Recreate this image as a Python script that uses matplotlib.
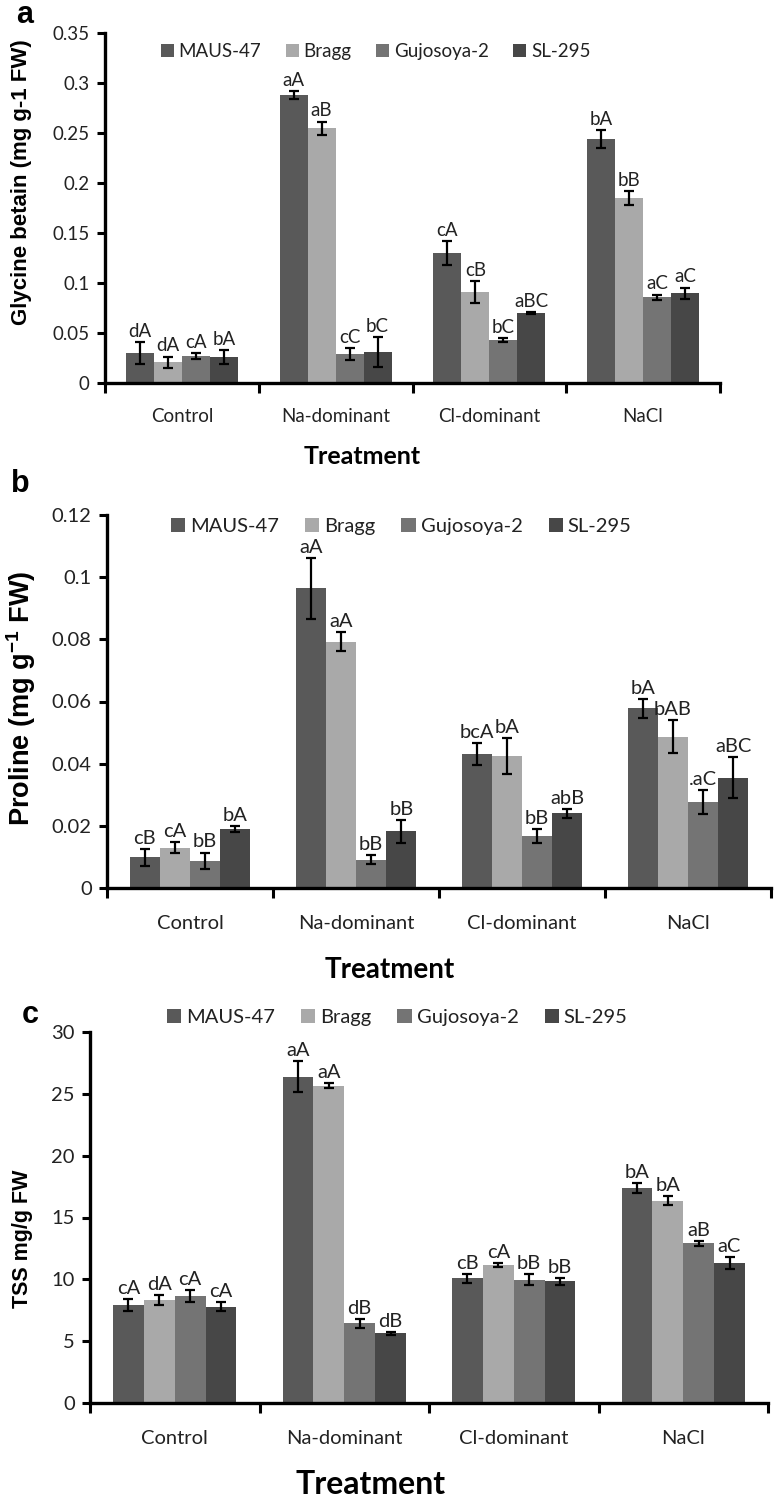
import numpy as np
import matplotlib.pyplot as plt
from matplotlib.patches import Patch
from matplotlib.ticker import FuncFormatter

plt.rcParams['font.family'] = ['Lato', 'DejaVu Sans']
plt.rcParams['mathtext.default'] = 'regular'

TREATMENTS = ["Control", "Na-dominant", "Cl-dominant", "NaCl"]
CULTIVARS = ["MAUS-47", "Bragg", "Gujosoya-2", "SL-295"]
COLORS = ["#595959", "#a9a9a9", "#747474", "#474747"]

# rows = cultivar, columns = treatment
gb_mean = [[0.030, 0.288, 0.130, 0.244],
           [0.021, 0.255, 0.091, 0.185],
           [0.027, 0.029, 0.043, 0.086],
           [0.026, 0.031, 0.070, 0.090]]
gb_err = [[0.011, 0.004, 0.012, 0.009],
          [0.0055, 0.0065, 0.011, 0.007],
          [0.003, 0.006, 0.002, 0.0025],
          [0.007, 0.015, 0.001, 0.0055]]
gb_letters = [["dA", "aA", "cA", "bA"],
              ["dA", "aB", "cB", "bB"],
              ["cA", "cC", "bC", "aC"],
              ["bA", "bC", "aBC", "aC"]]

pro_mean = [[0.0099, 0.0964, 0.0430, 0.0578],
            [0.0130, 0.0792, 0.0424, 0.0487],
            [0.0088, 0.0091, 0.0168, 0.0277],
            [0.0189, 0.0183, 0.0240, 0.0354]]
pro_err = [[0.0027, 0.0098, 0.0035, 0.0030],
           [0.0017, 0.0030, 0.0058, 0.0053],
           [0.0026, 0.0015, 0.0022, 0.0038],
           [0.0010, 0.0037, 0.0014, 0.0066]]
pro_letters = [["cB", "aA", "bcA", "bA"],
               ["cA", "aA", "bA", "bAB"],
               ["bB", "bB", "bB", ".aC"],
               ["bA", "bB", "abB", "aBC"]]

tss_mean = [[7.95, 26.4, 10.08, 17.4],
            [8.32, 25.65, 11.14, 16.35],
            [8.65, 6.43, 9.97, 12.9],
            [7.78, 5.62, 9.84, 11.32]]
tss_err = [[0.49, 1.26, 0.38, 0.40],
           [0.40, 0.20, 0.18, 0.35],
           [0.50, 0.38, 0.43, 0.23],
           [0.35, 0.10, 0.30, 0.46]]
tss_letters = [["cA", "aA", "cB", "bA"],
               ["dA", "aA", "cA", "bA"],
               ["cA", "dB", "bB", "aB"],
               ["cA", "dB", "bB", "aC"]]

W, H = 774, 1498


def px_rect(left, right, top, bottom):
    return [left / W, 1 - bottom / H, (right - left) / W, (bottom - top) / H]


def draw_panel(ax, means, errs, letters, ymax, ystep, ylabel, fs,
               ylab_kw, legend_xy, xlab_x, xlab_fs, xlab_off, cat_pad):
    x = np.arange(len(TREATMENTS))
    bw = 0.182
    for i, name in enumerate(CULTIVARS):
        pos = x + (i - 1.5) * bw
        ax.bar(pos, means[i], bw, color=COLORS[i], zorder=2)
        ax.errorbar(pos, means[i], yerr=errs[i], fmt='none', ecolor='black',
                    elinewidth=1.6, capsize=3.5, capthick=1.6, zorder=3)
        for j in range(len(TREATMENTS)):
            ax.annotate(letters[i][j], (pos[j], means[i][j] + errs[i][j]),
                        xytext=(0, 1.5), textcoords='offset points',
                        ha='center', va='bottom', fontsize=fs, color='#222222')

    ax.set_xlim(-0.5, len(TREATMENTS) - 0.5)
    ax.set_ylim(0, ymax)
    ax.set_yticks(np.arange(0, ymax + ystep / 2, ystep))
    ax.yaxis.set_major_formatter(FuncFormatter(lambda v, p: f"{v:g}"))
    ax.set_xticks(np.arange(-0.5, len(TREATMENTS)))
    ax.set_xticklabels([])
    ax.set_xticks(x, minor=True)
    ax.set_xticklabels(TREATMENTS, minor=True, fontsize=fs, color='#222222')
    ax.tick_params(axis='x', which='minor', length=0, pad=cat_pad)
    ax.tick_params(axis='x', which='major', length=7, width=2.2, direction='out')
    ax.tick_params(axis='y', length=6, width=2.2, direction='out',
                   labelsize=fs, labelcolor='#222222', pad=5)
    for s in ['top', 'right']:
        ax.spines[s].set_visible(False)
    for s in ['left', 'bottom']:
        ax.spines[s].set_linewidth(2.4)

    ax.text(ylab_kw['x'], ylab_kw['y'], ylabel, rotation=90, ha='center',
            va='center', transform=ax.transAxes, fontsize=ylab_kw['fs'],
            fontweight=ylab_kw['weight'], family=['Liberation Sans', 'DejaVu Sans'])

    handles = [Patch(facecolor=c, label=n) for c, n in zip(COLORS, CULTIVARS)]
    ax.legend(handles=handles, ncol=4, loc='center', bbox_to_anchor=legend_xy,
              frameon=False, fontsize=fs, handlelength=0.7, handleheight=0.7,
              handletextpad=0.25, columnspacing=1.3, labelcolor='#222222')

    ax.annotate("Treatment", (xlab_x, 0), xycoords='axes fraction',
                xytext=(0, xlab_off), textcoords='offset points',
                ha='center', va='center', fontsize=xlab_fs, fontweight='bold')


fig = plt.figure(figsize=(W / 100, H / 100), dpi=100)

ax_a = fig.add_axes(px_rect(105, 720, 33, 383))
draw_panel(ax_a, gb_mean, gb_err, gb_letters, 0.35, 0.05,
           "Glycine betain (mg g-1 FW)", 13.5,
           dict(x=-0.135, y=0.575, fs=16, weight='bold'),
           (0.44, 0.946), 0.418, 18, -53, 18)

ax_b = fig.add_axes(px_rect(107, 771, 515, 888))
draw_panel(ax_b, pro_mean, pro_err, pro_letters, 0.12, 0.02,
           r"Proline (mg g$^{-1}$ FW)", 14.5,
           dict(x=-0.13, y=0.509, fs=19.5, weight='bold'),
           (0.443, 0.968), 0.426, 20, -59, 19.5)

ax_c = fig.add_axes(px_rect(90, 768, 1032, 1403))
draw_panel(ax_c, tss_mean, tss_err, tss_letters, 30, 5,
           "TSS mg/g FW", 14.5,
           dict(x=-0.1, y=0.442, fs=15.5, weight='bold'),
           (0.453, 1.04), 0.414, 23, -59, 19.5)

for label, (lx, ly) in zip("abc", [(25, 15), (20, 484), (30, 1015)]):
    fig.text(lx / W, 1 - ly / H, label, fontsize=22, fontweight='bold',
             ha='center', va='center', family=['Liberation Sans', 'DejaVu Sans'])

fig.savefig("out.png", dpi=100)
